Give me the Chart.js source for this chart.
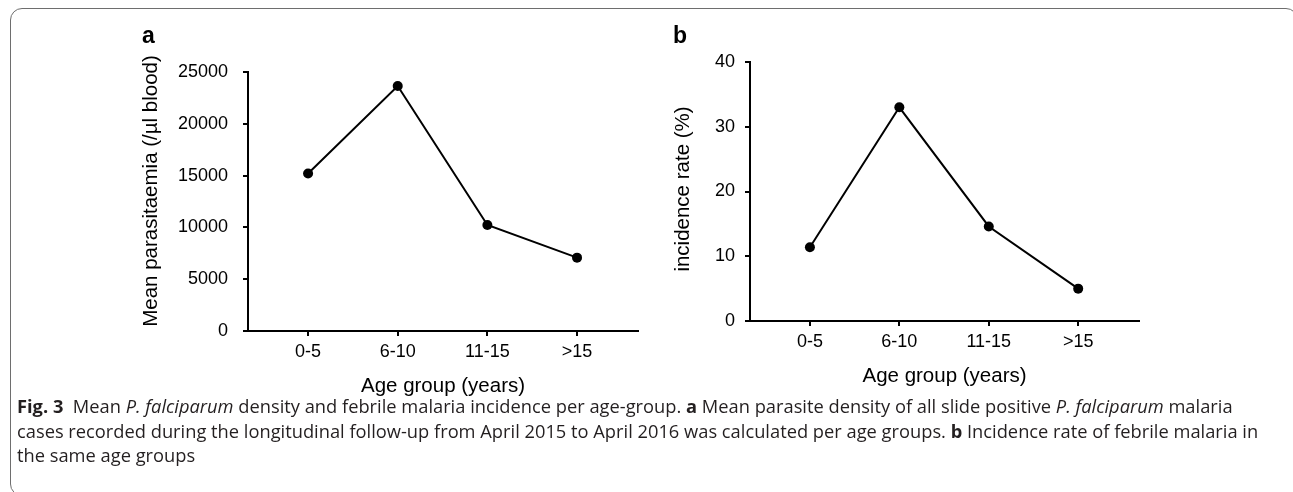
<!DOCTYPE html>
<html>
<head>
<meta charset="utf-8">
<script src="https://cdn.jsdelivr.net/npm/chart.js@4.4.0/dist/chart.umd.min.js"></script>
<style>
  html, body { margin: 0; padding: 0; background: #fff; }
  body { width: 1293px; height: 492px; position: relative; overflow: hidden; }
  #frame { position: absolute; left: 10px; top: 8px; width: 1288px; height: 488px;
           border: 1.5px solid #6e6e6e; border-radius: 12px; box-sizing: border-box; }
  #wrapA { position: absolute; left: 0; top: 0; }
  #wrapB { position: absolute; left: 640px; top: 0; }
  #caption { position: absolute; left: 17px; top: 394px; font-family: "Open Sans", Lato, sans-serif;
             font-size: 18.3px; line-height: 24.5px; color: #231f20; white-space: nowrap; }
</style>
</head>
<body>
<div id="frame"></div>
<div id="wrapA"><canvas id="chartA" width="660" height="400"></canvas></div>
<div id="wrapB"><canvas id="chartB" width="653" height="400"></canvas></div>
<div id="caption">
  <div><b>Fig. 3</b>&nbsp;&nbsp;Mean <i>P. falciparum</i> density and febrile malaria incidence per age-group. <b>a</b> Mean parasite density of all slide positive <i>P. falciparum</i> malaria</div>
  <div>cases recorded during the longitudinal follow-up from April 2015 to April 2016 was calculated per age groups. <b>b</b> Incidence rate of febrile malaria in</div>
  <div>the same age groups</div>
</div>
<script>
// donnees
const ageGroups = ['0-5', '6-10', '11-15', '>15'];
const parasitaemia = [15200, 23650, 10230, 7080];
const incidence = [11.4, 33.0, 14.6, 5.0];
const parasitaemiaTicks = [0, 5000, 10000, 15000, 20000, 25000];
const incidenceTicks = [0, 10, 20, 30, 40];

const FONT = '"Liberation Sans", Arial, sans-serif';

// lettre du panneau + titre vertical de l'axe y
const panelText = {
  id: 'panelText',
  afterDraw(chart, args, o) {
    const ctx = chart.ctx;
    ctx.save();
    ctx.fillStyle = '#000';
    ctx.font = 'bold 23px ' + FONT;
    ctx.textAlign = 'left';
    ctx.textBaseline = 'alphabetic';
    ctx.fillText(o.letter, o.letterX, o.letterY);
    ctx.font = '20.5px ' + FONT;
    ctx.translate(o.titleX, o.titleY);
    ctx.rotate(-Math.PI / 2);
    ctx.textAlign = 'center';
    ctx.textBaseline = 'middle';
    ctx.fillText(o.title, 0, 0);
    ctx.restore();
  }
};

function buildChart(id, values, yTicks, cfg) {
  const ctx = document.getElementById(id).getContext('2d');
  return new Chart(ctx, {
    type: 'line',
    data: {
      datasets: [{
        data: values.map((v, i) => ({ x: i, y: v })),
        borderColor: '#000',
        borderWidth: 2,
        pointRadius: 5,
        pointBackgroundColor: '#000',
        pointBorderWidth: 0,
        tension: 0
      }]
    },
    options: {
      responsive: false,
      animation: false,
      layout: { padding: cfg.padding },
      plugins: {
        legend: { display: false },
        tooltip: { enabled: false },
        panelText: cfg.panel
      },
      scales: {
        x: {
          type: 'linear',
          min: -0.67,
          max: ageGroups.length - 1 + 0.68,
          afterBuildTicks: s => { s.ticks = ageGroups.map((_, i) => ({ value: i })); },
          afterFit: s => { s.height = cfg.xHeight; },
          ticks: {
            callback: v => ageGroups[v],
            color: '#000',
            font: { family: FONT, size: 18 },
            padding: 5,
            maxRotation: 0,
            autoSkip: false
          },
          grid: { drawOnChartArea: false, color: '#000', lineWidth: 2, tickLength: 5 },
          border: { color: '#000', width: 2 },
          title: {
            display: true,
            text: 'Age group (years)',
            color: '#000',
            font: { family: FONT, size: 20.5 },
            padding: { top: 0, bottom: cfg.xTitlePad }
          }
        },
        y: {
          min: yTicks[0],
          max: yTicks[yTicks.length - 1],
          afterBuildTicks: s => { s.ticks = yTicks.map(v => ({ value: v })); },
          afterFit: s => { s.width = cfg.yWidth; },
          ticks: {
            callback: v => String(v),
            color: '#000',
            font: { family: FONT, size: 18 },
            padding: cfg.yTickPad
          },
          grid: { drawOnChartArea: false, color: '#000', lineWidth: 2, tickLength: 5 },
          border: { color: '#000', width: 2 }
        }
      }
    },
    plugins: [panelText]
  });
}

buildChart('chartA', parasitaemia, parasitaemiaTicks, {
  padding: { top: 72, right: 22, bottom: 0, left: 0 },
  xHeight: 69,
  yWidth: 248,
  yTickPad: 15,
  xTitlePad: 1,
  panel: { letter: 'a', letterX: 142, letterY: 43, title: 'Mean parasitaemia (/\u00b5l blood)', titleX: 151, titleY: 191 }
});

buildChart('chartB', incidence, incidenceTicks, {
  padding: { top: 62, right: 154, bottom: 0, left: 0 },
  xHeight: 79,
  yWidth: 110,
  yTickPad: 10,
  xTitlePad: 11,
  panel: { letter: 'b', letterX: 33, letterY: 43, title: 'incidence rate (%)', titleX: 43, titleY: 189 }
});
</script>
</body>
</html>
